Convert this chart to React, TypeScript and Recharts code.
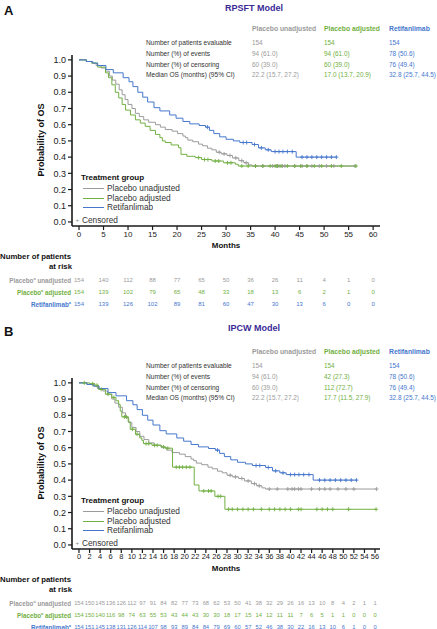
import React from "react";
import { Line, LineChart, Scatter, ScatterChart, XAxis, YAxis } from "recharts";

document.body.style.margin = "0";

const FONT = "'Liberation Sans', Arial, Helvetica, sans-serif";

const COLOR = {
  unadjusted: "#9b9b9b",
  adjusted: "#72b043",
  retifanlimab: "#4677cd",
  title: "#3b2a96",
  label: "#333333",
  axis: "#1a1a1a",
} as const;

// [months, survival] — a third element of 1 marks a censored observation
type Pt = [number, number] | [number, number, number];

const placeboUnadjustedKm: Pt[] = [
  [0, 1], [1.5, 0.99], [2.6, 0.98], [3.5, 0.965], [4.5, 0.95], [5.4, 0.93], [6.2, 0.9], [6.8, 0.875],
  [7.5, 0.85], [8.2, 0.815], [8.8, 0.785], [9.4, 0.755], [10.0, 0.725], [10.8, 0.7], [11.5, 0.67],
  [12.3, 0.65], [13.2, 0.63], [14.2, 0.615], [15.6, 0.6], [16.6, 0.585], [17.6, 0.57], [19.0, 0.56],
  [20.1, 0.545], [21.2, 0.53], [21.7, 0.52], [22.2, 0.505], [23.2, 0.495], [24.4, 0.48], [25.2, 0.47],
  [26.2, 0.455], [27.1, 0.445], [28.0, 0.43], [28.6, 0.43, 1], [29.0, 0.42], [29.6, 0.42, 1],
  [30.2, 0.41], [30.8, 0.41, 1], [31.3, 0.395], [32.0, 0.395, 1], [32.6, 0.378], [33.2, 0.378, 1],
  [33.6, 0.365], [34.1, 0.365, 1], [34.6, 0.352], [35.3, 0.345], [36.0, 0.345, 1], [37.5, 0.345, 1],
  [39.5, 0.345, 1], [40.3, 0.345, 1], [40.8, 0.345, 1], [41.5, 0.345, 1], [42.0, 0.345, 1],
  [44.0, 0.345, 1], [45.5, 0.345, 1], [46.5, 0.345, 1], [47.5, 0.345, 1], [49.0, 0.345, 1],
  [50.5, 0.345, 1], [52.0, 0.345, 1], [56.3, 0.345, 1],
];

const retifanlimabKm: Pt[] = [
  [0, 1], [1.5, 0.99], [2.8, 0.98], [3.8, 0.965], [5.5, 0.94], [7.0, 0.92], [9.0, 0.89], [10.2, 0.865],
  [11.0, 0.835], [12.0, 0.8], [13.0, 0.77], [14.0, 0.74], [15.3, 0.705], [16.5, 0.685], [18.5, 0.66],
  [19.8, 0.64], [21.2, 0.62], [22.6, 0.605], [24.5, 0.595], [25.8, 0.585], [26.2, 0.585, 1],
  [26.6, 0.565], [27.5, 0.545], [28.7, 0.525], [30.0, 0.51], [31.5, 0.5], [32.8, 0.49],
  [33.5, 0.49, 1], [34.2, 0.49, 1], [35.3, 0.478], [35.8, 0.478, 1], [36.6, 0.457], [37.2, 0.457, 1],
  [38.0, 0.445], [38.6, 0.445, 1], [39.2, 0.434], [40.0, 0.434, 1], [40.8, 0.434, 1], [41.6, 0.434, 1],
  [42.5, 0.434, 1], [43.5, 0.434, 1], [44.3, 0.4], [45.5, 0.4, 1], [46.5, 0.4, 1], [47.5, 0.4, 1],
  [48.5, 0.4, 1], [49.5, 0.4, 1], [50.5, 0.4, 1], [51.5, 0.4, 1], [52.5, 0.4, 1],
];

const rpsftAdjustedKm: Pt[] = [
  [0, 1], [1.5, 0.99], [2.6, 0.98], [3.8, 0.955], [5.4, 0.92], [6.0, 0.89], [6.7, 0.846], [7.4, 0.8],
  [8.1, 0.765], [8.8, 0.725], [9.5, 0.69], [10.5, 0.66], [11.5, 0.63], [12.5, 0.61], [13.5, 0.59],
  [14.5, 0.565], [15.6, 0.54], [16.5, 0.52], [17.0, 0.5], [17.6, 0.49], [18.8, 0.475], [20.3, 0.458],
  [20.8, 0.417], [22.0, 0.405], [23.7, 0.397], [24.4, 0.397, 1], [25.0, 0.385], [25.6, 0.385, 1],
  [26.3, 0.385, 1], [27.1, 0.376], [27.8, 0.376, 1], [28.5, 0.376, 1], [29.5, 0.365], [30.3, 0.365, 1],
  [31.0, 0.365, 1], [31.9, 0.356], [32.5, 0.345], [33.2, 0.345, 1], [34.5, 0.345, 1], [36.0, 0.345, 1],
  [37.5, 0.345, 1], [39.0, 0.345, 1], [40.0, 0.345, 1], [40.5, 0.345, 1], [41.2, 0.345, 1],
  [42.5, 0.345, 1], [44.0, 0.345, 1], [45.2, 0.345, 1], [46.5, 0.345, 1], [48.0, 0.345, 1],
  [49.5, 0.345, 1], [51.5, 0.345, 1], [53.5, 0.345, 1], [56.5, 0.345, 1],
];

const ipcwAdjustedKm: Pt[] = [
  [0, 1], [1.0, 1, 1], [2.0, 0.995], [2.6, 0.995, 1], [3.0, 0.985], [3.4, 0.985, 1], [3.7, 0.96],
  [4.2, 0.96, 1], [5.0, 0.93], [5.5, 0.93, 1], [6.2, 0.91], [6.6, 0.91, 1], [7.0, 0.89], [7.5, 0.867],
  [7.8, 0.826], [8.1, 0.79], [8.6, 0.79, 1], [9.0, 0.79, 1], [9.3, 0.76], [9.7, 0.714], [10.1, 0.714, 1],
  [10.7, 0.683], [11.0, 0.683, 1], [11.5, 0.66], [11.9, 0.645], [12.2, 0.625], [12.7, 0.625, 1],
  [13.2, 0.625, 1], [13.8, 0.615], [14.3, 0.615, 1], [14.8, 0.615, 1], [15.5, 0.605], [16.0, 0.605, 1],
  [16.3, 0.597], [16.8, 0.597, 1], [17.7, 0.48], [18.4, 0.48, 1], [19.0, 0.48, 1], [19.6, 0.48, 1],
  [20.3, 0.48, 1], [21.0, 0.48, 1], [21.8, 0.37], [22.7, 0.333], [23.6, 0.333, 1], [24.5, 0.333, 1],
  [25.0, 0.333, 1], [25.7, 0.3], [26.3, 0.3, 1], [26.8, 0.3, 1], [27.6, 0.22], [28.3, 0.22, 1],
  [29.0, 0.22, 1], [30.0, 0.22, 1], [31.0, 0.22, 1], [32.0, 0.22, 1], [33.0, 0.22, 1], [34.5, 0.22, 1],
  [36.0, 0.22, 1], [37.0, 0.22, 1], [38.0, 0.22, 1], [39.0, 0.22, 1], [40.0, 0.22, 1], [41.5, 0.22, 1],
  [42.0, 0.22, 1], [45.0, 0.22, 1], [46.0, 0.22, 1], [47.0, 0.22, 1], [48.0, 0.22, 1], [51.0, 0.22, 1],
  [56.2, 0.22, 1],
];

const survivalTicks = [0, 0.1, 0.2, 0.3, 0.4, 0.5, 0.6, 0.7, 0.8, 0.9, 1.0];
const rpsftMonthTicks = [0, 5, 10, 15, 20, 25, 30, 35, 40, 45, 50, 55, 60];
const ipcwMonthTicks = [
  0, 2, 4, 6, 8, 10, 12, 14, 16, 18, 20, 22, 24, 26, 28, 30, 32, 34, 36, 38, 40, 42, 44, 46, 48, 50, 52, 54, 56,
];

// numbers at risk
const rpsftRiskUnadjusted = [154, 140, 112, 88, 77, 65, 50, 36, 26, 11, 4, 1, 0];
const rpsftRiskAdjusted = [154, 139, 102, 79, 65, 48, 33, 18, 13, 6, 2, 1, 0];
const rpsftRiskRetifanlimab = [154, 139, 126, 102, 89, 81, 60, 47, 30, 13, 6, 0, 0];
const ipcwRiskUnadjusted = [
  154, 150, 145, 136, 126, 112, 97, 91, 84, 82, 77, 73, 68, 62, 53, 50, 41, 38, 32, 29, 26, 16, 13, 10, 8, 4, 2, 1, 1,
];
const ipcwRiskAdjusted = [
  154, 150, 140, 116, 98, 74, 63, 55, 53, 43, 44, 43, 30, 30, 18, 17, 15, 14, 12, 11, 11, 7, 6, 5, 1, 1, 0, 0, 0,
];
const ipcwRiskRetifanlimab = [
  154, 151, 145, 138, 131, 126, 114, 107, 98, 93, 89, 84, 84, 79, 69, 60, 57, 52, 46, 38, 30, 22, 16, 13, 10, 6, 1, 0, 0,
];

// summary tables
const statLabels = [
  "Number of patients evaluable",
  "Number (%) of events",
  "Number (%) of censoring",
  "Median OS (months) (95% CI)",
];
const rpsftStatsUnadjusted = ["154", "94 (61.0)", "60 (39.0)", "22.2 (15.7, 27.2)"];
const rpsftStatsAdjusted = ["154", "94 (61.0)", "60 (39.0)", "17.0 (13.7, 20.9)"];
const rpsftStatsRetifanlimab = ["154", "78 (50.6)", "76 (49.4)", "32.8 (25.7, 44.5)"];
const ipcwStatsUnadjusted = ["154", "94 (61.0)", "60 (39.0)", "22.2 (15.7, 27.2)"];
const ipcwStatsAdjusted = ["154", "42 (27.3)", "112 (72.7)", "17.7 (11.5, 27.9)"];
const ipcwStatsRetifanlimab = ["154", "78 (50.6)", "76 (49.4)", "32.8 (25.7, 44.5)"];

const W = 437;
const MARGIN = { top: 55, right: 57, bottom: 0, left: 42 };

const toRows = (pts: Pt[]) => pts.map((p) => ({ t: p[0], s: p[1], c: p[2] === 1 }));

function Txt({
  x,
  y,
  size = 6.5,
  color = COLOR.label,
  bold = false,
  anchor = "start",
  children,
}: {
  x: number;
  y: number;
  size?: number;
  color?: string;
  bold?: boolean;
  anchor?: "start" | "middle" | "end";
  children: React.ReactNode;
}) {
  const tx = anchor === "middle" ? "-50%" : anchor === "end" ? "-100%" : "0";
  return (
    <div
      style={{
        position: "absolute",
        left: x,
        top: y,
        transform: `translate(${tx}, -50%)`,
        fontSize: size,
        lineHeight: 1,
        fontWeight: bold ? 700 : 400,
        color,
        whiteSpace: "nowrap",
      }}
    >
      {children}
    </div>
  );
}

const censorDot = (color: string) => (p: any) => {
  const { cx, cy, index, payload } = p;
  if (!payload?.c || cx == null) return <g key={`n${index}`} />;
  return (
    <path key={`c${index}`} d={`M${cx - 2},${cy}h4M${cx},${cy - 2}v4`} stroke={color} strokeWidth={0.9} fill="none" />
  );
};

interface Curve {
  name: string;
  color: string;
  pts: Pt[];
}

function KmChart({
  top,
  curves,
  domain,
  ticks,
  tickFont,
}: {
  top: number;
  curves: Curve[];
  domain: [number, number];
  ticks: number[];
  tickFont: number;
}) {
  return (
    <div style={{ position: "absolute", left: 0, top }}>
      <LineChart width={W} height={240} margin={MARGIN}>
        <XAxis
          dataKey="t"
          type="number"
          domain={domain}
          ticks={ticks}
          interval={0}
          height={14}
          tickSize={4}
          tickMargin={1}
          axisLine={{ stroke: COLOR.axis, strokeWidth: 1.6 }}
          tickLine={{ stroke: COLOR.axis, strokeWidth: 1.2 }}
          tick={{ fontSize: tickFont, fill: "#222", fontFamily: FONT }}
        />
        <YAxis
          type="number"
          domain={[-0.025, 1.03]}
          ticks={survivalTicks}
          interval={0}
          tickFormatter={(v: number) => v.toFixed(1)}
          width={30}
          tickSize={4}
          tickMargin={2}
          axisLine={{ stroke: COLOR.axis, strokeWidth: 1.6 }}
          tickLine={{ stroke: COLOR.axis, strokeWidth: 1.2 }}
          tick={{ fontSize: 9, fill: "#222", fontFamily: FONT }}
        />
        {curves.map((c) => (
          <Line
            key={c.name}
            data={toRows(c.pts)}
            dataKey="s"
            type="stepAfter"
            stroke={c.color}
            strokeWidth={1}
            dot={censorDot(c.color)}
            activeDot={false}
            isAnimationActive={false}
          />
        ))}
      </LineChart>
    </div>
  );
}

interface RiskRow {
  label: string;
  rest: string;
  color: string;
  counts: number[];
}

function RowLabel(props: any) {
  const { x, y, payload, rows } = props;
  const row: RiskRow = rows[payload.value];
  if (!row) return null;
  return (
    <text x={x} y={y} textAnchor="end" dominantBaseline="central" fontSize={6.3} fontWeight={700} fill={row.color} fontFamily={FONT}>
      <tspan>{row.label}</tspan>
      <tspan dy={-2} fontSize={4}>a</tspan>
      <tspan dy={2}>{row.rest}</tspan>
    </text>
  );
}

function RiskTable({
  top,
  times,
  rows,
  domain,
  fontSize,
}: {
  top: number;
  times: number[];
  rows: RiskRow[];
  domain: [number, number];
  fontSize: number;
}) {
  return (
    <div style={{ position: "absolute", left: 0, top }}>
      <ScatterChart width={W} height={36} margin={{ top: 0, right: 57, bottom: 0, left: 42 }}>
        <XAxis dataKey="t" type="number" domain={domain} hide />
        <YAxis
          dataKey="r"
          type="number"
          domain={[-0.5, 2.5]}
          reversed
          ticks={[0, 1, 2]}
          interval={0}
          width={30}
          axisLine={false}
          tickLine={false}
          tickSize={0}
          tickMargin={1}
          tick={<RowLabel rows={rows} />}
        />
        {rows.map((row, r) => (
          <Scatter
            key={row.label + row.rest}
            data={row.counts.map((n, i) => ({ t: times[i], r, n }))}
            isAnimationActive={false}
            shape={(p: any) => (
              <text
                x={p.cx}
                y={p.cy}
                textAnchor="middle"
                dominantBaseline="central"
                fontSize={fontSize}
                fill={row.color}
                fontFamily={FONT}
              >
                {p.payload.n}
              </text>
            )}
          />
        ))}
      </ScatterChart>
    </div>
  );
}

function StatsTable({ y, cols }: { y: number; cols: string[][] }) {
  const headers = [
    { name: "Placebo unadjusted", color: COLOR.unadjusted, x: 252 },
    { name: "Placebo adjusted", color: COLOR.adjusted, x: 324 },
    { name: "Retifanlimab", color: COLOR.retifanlimab, x: 389 },
  ];
  return (
    <>
      {headers.map((h) => (
        <Txt key={h.name} x={h.x} y={y} size={6.8} bold color={h.color}>
          {h.name}
        </Txt>
      ))}
      {statLabels.map((l, i) => (
        <React.Fragment key={l}>
          <Txt x={146} y={y + 14.3 + i * 10.6} size={6.6}>
            {l}
          </Txt>
          {cols.map((col, j) => (
            <Txt key={j} x={headers[j].x} y={y + 14.3 + i * 10.6} size={6.4} color={headers[j].color}>
              {col[i]}
            </Txt>
          ))}
        </React.Fragment>
      ))}
    </>
  );
}

const legendItems = [
  { name: "Placebo unadjusted", color: COLOR.unadjusted },
  { name: "Placebo adjusted", color: COLOR.adjusted },
  { name: "Retifanlimab", color: COLOR.retifanlimab },
];
const legendOffsets = [10.3, 19.8, 29];

function GroupLegend({ y }: { y: number }) {
  return (
    <>
      <Txt x={81} y={y} size={8} bold color="#111">
        Treatment group
      </Txt>
      {legendItems.map((it, i) => (
        <React.Fragment key={it.name}>
          <div
            style={{
              position: "absolute",
              left: 83,
              top: y + legendOffsets[i],
              width: 21,
              borderTop: `1px solid ${it.color}`,
            }}
          />
          <Txt x={107} y={y + legendOffsets[i]} size={8.3} color="#333">
            {it.name}
          </Txt>
        </React.Fragment>
      ))}
      <Txt x={75.5} y={y + 41.5} size={6} color="#888">
        +
      </Txt>
      <Txt x={82} y={y + 41.5} size={8.3} color="#333">
        Censored
      </Txt>
    </>
  );
}

function Panel({
  top,
  letter,
  letterY,
  title,
  titleY,
  stats,
  curves,
  domain,
  ticks,
  tickFont,
  risk,
  riskFont,
}: {
  top: number;
  letter: string;
  letterY: number;
  title: string;
  titleY: number;
  stats: string[][];
  curves: Curve[];
  domain: [number, number];
  ticks: number[];
  tickFont: number;
  risk: RiskRow[];
  riskFont: number;
}) {
  return (
    <>
      <Txt x={4} y={letterY} size={13} bold color="#111">
        {letter}
      </Txt>
      <Txt x={254} y={titleY} size={9} bold color={COLOR.title} anchor="middle">
        {title}
      </Txt>
      <KmChart top={top} curves={curves} domain={domain} ticks={ticks} tickFont={tickFont} />
      <StatsTable y={top + 29} cols={stats} />
      <div
        style={{
          position: "absolute",
          left: 41,
          top: top + 140,
          transform: "translate(-50%, -50%) rotate(-90deg)",
          fontSize: 9,
          fontWeight: 700,
          color: "#111",
          whiteSpace: "nowrap",
        }}
      >
        Probability of OS
      </div>
      <GroupLegend y={top + 178} />
      <Txt x={226} y={top + 246} size={8} bold color="#111" anchor="middle">
        Months
      </Txt>
      <Txt x={0} y={top + 256.7} size={7.8} bold color="#111">
        Number of patients
      </Txt>
      <Txt x={72} y={top + 267.3} size={7.8} bold color="#111" anchor="end">
        at risk
      </Txt>
      <RiskTable top={top + 274} times={ticks} rows={risk} domain={domain} fontSize={riskFont} />
    </>
  );
}

export default function App() {
  const rpsftCurves: Curve[] = [
    { name: "unadjusted", color: COLOR.unadjusted, pts: placeboUnadjustedKm },
    { name: "adjusted", color: COLOR.adjusted, pts: rpsftAdjustedKm },
    { name: "retifanlimab", color: COLOR.retifanlimab, pts: retifanlimabKm },
  ];
  const ipcwCurves: Curve[] = [
    { name: "unadjusted", color: COLOR.unadjusted, pts: placeboUnadjustedKm },
    { name: "adjusted", color: COLOR.adjusted, pts: ipcwAdjustedKm },
    { name: "retifanlimab", color: COLOR.retifanlimab, pts: retifanlimabKm },
  ];
  const riskRows = (u: number[], a: number[], r: number[]): RiskRow[] => [
    { label: "Placebo", rest: " unadjusted", color: COLOR.unadjusted, counts: u },
    { label: "Placebo", rest: " adjusted", color: COLOR.adjusted, counts: a },
    { label: "Retifanlimab", rest: "", color: COLOR.retifanlimab, counts: r },
  ];

  return (
    <div
      style={{
        position: "relative",
        width: W,
        height: 629,
        overflow: "hidden",
        background: "#fff",
        fontFamily: FONT,
      }}
    >
      <Panel
        top={0}
        letter="A"
        letterY={10}
        title="RPSFT Model"
        titleY={8}
        stats={[rpsftStatsUnadjusted, rpsftStatsAdjusted, rpsftStatsRetifanlimab]}
        curves={rpsftCurves}
        domain={[-1.43, 61.4]}
        ticks={rpsftMonthTicks}
        tickFont={8}
        risk={riskRows(rpsftRiskUnadjusted, rpsftRiskAdjusted, rpsftRiskRetifanlimab)}
        riskFont={6}
      />
      <Panel
        top={323}
        letter="B"
        letterY={331}
        title="IPCW Model"
        titleY={328}
        stats={[ipcwStatsUnadjusted, ipcwStatsAdjusted, ipcwStatsRetifanlimab]}
        curves={ipcwCurves}
        domain={[-1.32, 56.94]}
        ticks={ipcwMonthTicks}
        tickFont={7.5}
        risk={riskRows(ipcwRiskUnadjusted, ipcwRiskAdjusted, ipcwRiskRetifanlimab)}
        riskFont={5.8}
      />
    </div>
  );
}
